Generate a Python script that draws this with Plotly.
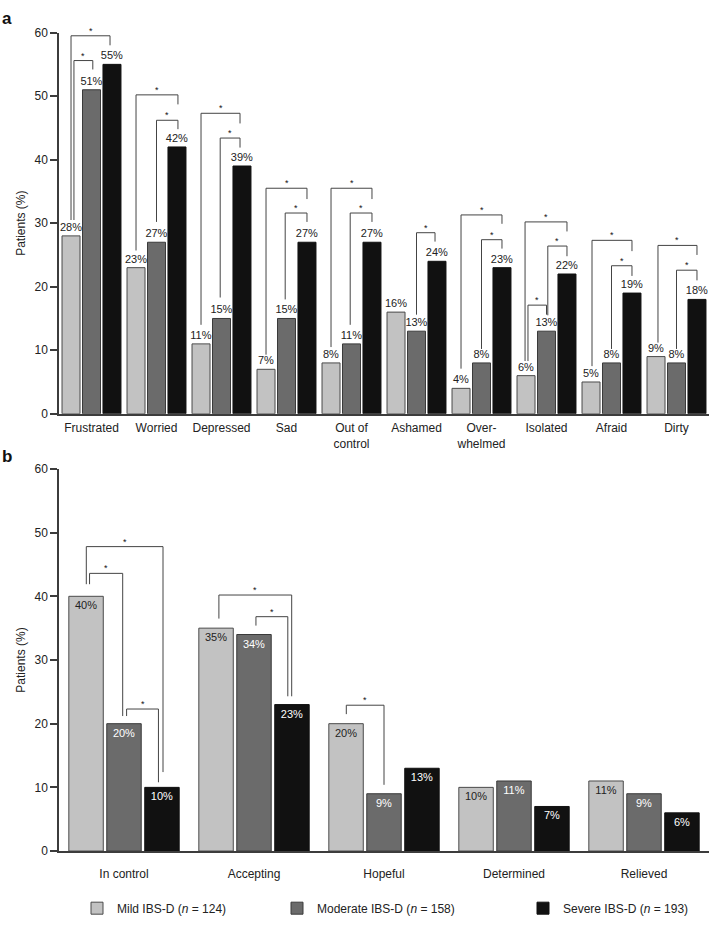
import plotly.graph_objects as go

# ---------------- data ----------------
categories_a = ["Frustrated", "Worried", "Depressed", "Sad", "Out of<br>control",
                "Ashamed", "Over-<br>whelmed", "Isolated", "Afraid", "Dirty"]
mild_a = [28, 23, 11, 7, 8, 16, 4, 6, 5, 9]
moderate_a = [51, 27, 15, 15, 11, 13, 8, 13, 8, 8]
severe_a = [55, 42, 39, 27, 27, 24, 23, 22, 19, 18]

categories_b = ["In control", "Accepting", "Hopeful", "Determined", "Relieved"]
mild_b = [40, 35, 20, 10, 11]
moderate_b = [20, 34, 9, 11, 9]
severe_b = [10, 23, 13, 7, 6]

series_names = ["Mild IBS-D (<i>n</i> = 124)",
                "Moderate IBS-D (<i>n</i> = 158)",
                "Severe IBS-D (<i>n</i> = 193)"]
y_ticks = [0, 10, 20, 30, 40, 50, 60]

# significance brackets:
# (category index, left-leg offset, right-leg offset, top, left-leg bottom, right-leg bottom)
brackets_a = [
    (0, -0.315, 0.285, 59.5, 30.5, 58.0),
    (0, -0.27, 0.02, 55.6, 30.5, 54.2),
    (1, -0.315, 0.33, 50.2, 25.7, 48.7),
    (1, 0.0, 0.33, 46.2, 30.2, 44.8),
    (2, -0.315, 0.285, 47.3, 14.0, 45.7),
    (2, -0.02, 0.285, 43.4, 18.3, 41.9),
    (3, -0.315, 0.315, 35.5, 9.3, 33.8),
    (3, -0.02, 0.315, 31.6, 18.0, 30.2),
    (4, -0.315, 0.315, 35.5, 10.5, 33.8),
    (4, -0.02, 0.315, 31.6, 14.0, 30.2),
    (5, 0.0, 0.285, 28.5, 15.6, 27.1),
    (6, -0.315, 0.315, 31.3, 7.1, 29.9),
    (6, 0.0, 0.315, 27.4, 10.2, 26.0),
    (7, -0.33, 0.315, 30.2, 8.3, 28.7),
    (7, 0.02, 0.315, 26.4, 15.5, 24.8),
    (7, -0.285, 0.0, 17.1, 8.3, 15.6),
    (8, -0.30, 0.315, 27.3, 7.5, 25.6),
    (8, 0.0, 0.315, 23.3, 10.2, 21.7),
    (9, -0.285, 0.315, 26.5, 11.2, 25.0),
    (9, 0.0, 0.315, 22.6, 10.2, 21.0),
]
brackets_b = [
    (0, -0.29, 0.30, 47.8, 41.9, 12.4),
    (0, -0.265, -0.01, 43.6, 41.9, 21.2),
    (0, 0.02, 0.265, 22.3, 21.2, 10.8),
    (1, -0.27, 0.29, 40.2, 36.5, 24.3),
    (1, 0.015, 0.26, 36.8, 35.4, 24.3),
    (2, -0.29, 0.0, 22.9, 21.5, 10.4),
]

# ---------------- style ----------------
W, H = 709, 927
FONT = "Liberation Sans, Arial, Helvetica, sans-serif"
TXT = "#222222"
AXC = "#3c3c3c"
colors = ["#c2c2c2", "#6b6b6b", "#111111"]
outlines = ["#4a4a4a", "#3a3a3a", "#111111"]
AX_LEFT = 59
A_TOP, A_BOT = 26, 413
B_TOP, B_BOT = 469, 857


def py(p):
    return 1 - p / H


fig = go.Figure()


def add_panel(cats, series, xa, ya, slot, width, panel_b):
    x = list(range(len(cats)))
    for i, vals in enumerate(series):
        kw = dict(textposition="outside",
                  outsidetextfont=dict(size=11, color=TXT, family=FONT))
        if panel_b:
            kw = dict(textposition="inside", insidetextanchor="end",
                      insidetextfont=dict(size=11, family=FONT,
                                          color=TXT if i == 0 else "white"))
        fig.add_trace(go.Bar(
            x=x, y=vals, name=series_names[i],
            xaxis=xa, yaxis=ya,
            offset=(i - 1) * slot - width / 2, width=width,
            marker=dict(color=colors[i], line=dict(color=outlines[i], width=1)),
            text=[f"{v}%" for v in vals], textangle=0, constraintext="none",
            cliponaxis=False,
            showlegend=not panel_b,
            legend=("legend" if i == 0 else f"legend{i + 1}"),
            hoverinfo="skip",
            **kw,
        ))


add_panel(categories_a, [mild_a, moderate_a, severe_a], "x", "y", 0.315, 0.277, False)
add_panel(categories_b, [mild_b, moderate_b, severe_b], "x2", "y2", 0.292, 0.265, True)

shapes, annos = [], []


def add_brackets(brs, xr, yr):
    for c, xl, xrr, top, yl, yrr in brs:
        x1, x2 = c + xl, c + xrr
        shapes.append(dict(type="path", xref=xr, yref=yr,
                           path=f"M {x1},{yl} L {x1},{top} L {x2},{top} L {x2},{yrr}",
                           line=dict(color="#444444", width=1)))
        annos.append(dict(x=(x1 + x2) / 2, y=top, xref=xr, yref=yr, text="*",
                          showarrow=False, yanchor="bottom", yshift=-2,
                          font=dict(size=9, color="#111111", family=FONT)))


add_brackets(brackets_a, "x", "y")
add_brackets(brackets_b, "x2", "y2")

annos.append(dict(x=0, y=1, xref="paper", yref="paper", xanchor="left", yanchor="top",
                  text="<b>a</b>", showarrow=False, font=dict(size=17, color="#111", family=FONT)))
annos.append(dict(x=0, y=py(445), xref="paper", yref="paper", xanchor="left", yanchor="top",
                  text="<b>b</b>", showarrow=False, font=dict(size=17, color="#111", family=FONT)))

xdom = [AX_LEFT / W, 1.0]
common_x = dict(showline=True, linecolor=AXC, linewidth=1.5, ticks="", showgrid=False,
                zeroline=False, tickfont=dict(size=12, color=TXT, family=FONT))
common_y = dict(range=[0, 60], tickvals=y_ticks, showline=True, linecolor=AXC, linewidth=1.5,
                ticks="outside", ticklen=7, tickwidth=1.5, tickcolor=AXC, showgrid=False,
                zeroline=False, tickfont=dict(size=12, color=TXT, family=FONT),
                title=dict(text="Patients (%)", font=dict(size=12, color=TXT, family=FONT),
                           standoff=6))

legend_common = dict(y=py(915), xanchor="left", yanchor="middle",
                     font=dict(size=12, color=TXT, family=FONT), bgcolor="rgba(0,0,0,0)")

fig.update_layout(
    width=W, height=H, autosize=False,
    margin=dict(l=0, r=0, t=0, b=0),
    paper_bgcolor="white", plot_bgcolor="white",
    font=dict(family=FONT, color=TXT),
    barmode="group",
    xaxis=dict(domain=xdom, range=[-0.5, len(categories_a) - 0.5],
               tickvals=list(range(len(categories_a))), ticktext=categories_a,
               anchor="y", ticklabelstandoff=2, **common_x),
    yaxis=dict(domain=[py(A_BOT), py(A_TOP)], anchor="x", **common_y),
    xaxis2=dict(domain=xdom, range=[-0.5, len(categories_b) - 0.5],
                tickvals=list(range(len(categories_b))), ticktext=categories_b,
                anchor="y2", ticklabelstandoff=11, **common_x),
    yaxis2=dict(domain=[py(B_BOT), py(B_TOP)], anchor="x2", **common_y),
    shapes=shapes,
    annotations=annos,
    legend=dict(x=77 / W, **legend_common),
    legend2=dict(x=277 / W, **legend_common),
    legend3=dict(x=523 / W, **legend_common),
)

fig.write_html("out.html",
               config={"displayModeBar": False},
               post_script="document.body.style.margin='0';document.body.style.overflow='hidden';")
